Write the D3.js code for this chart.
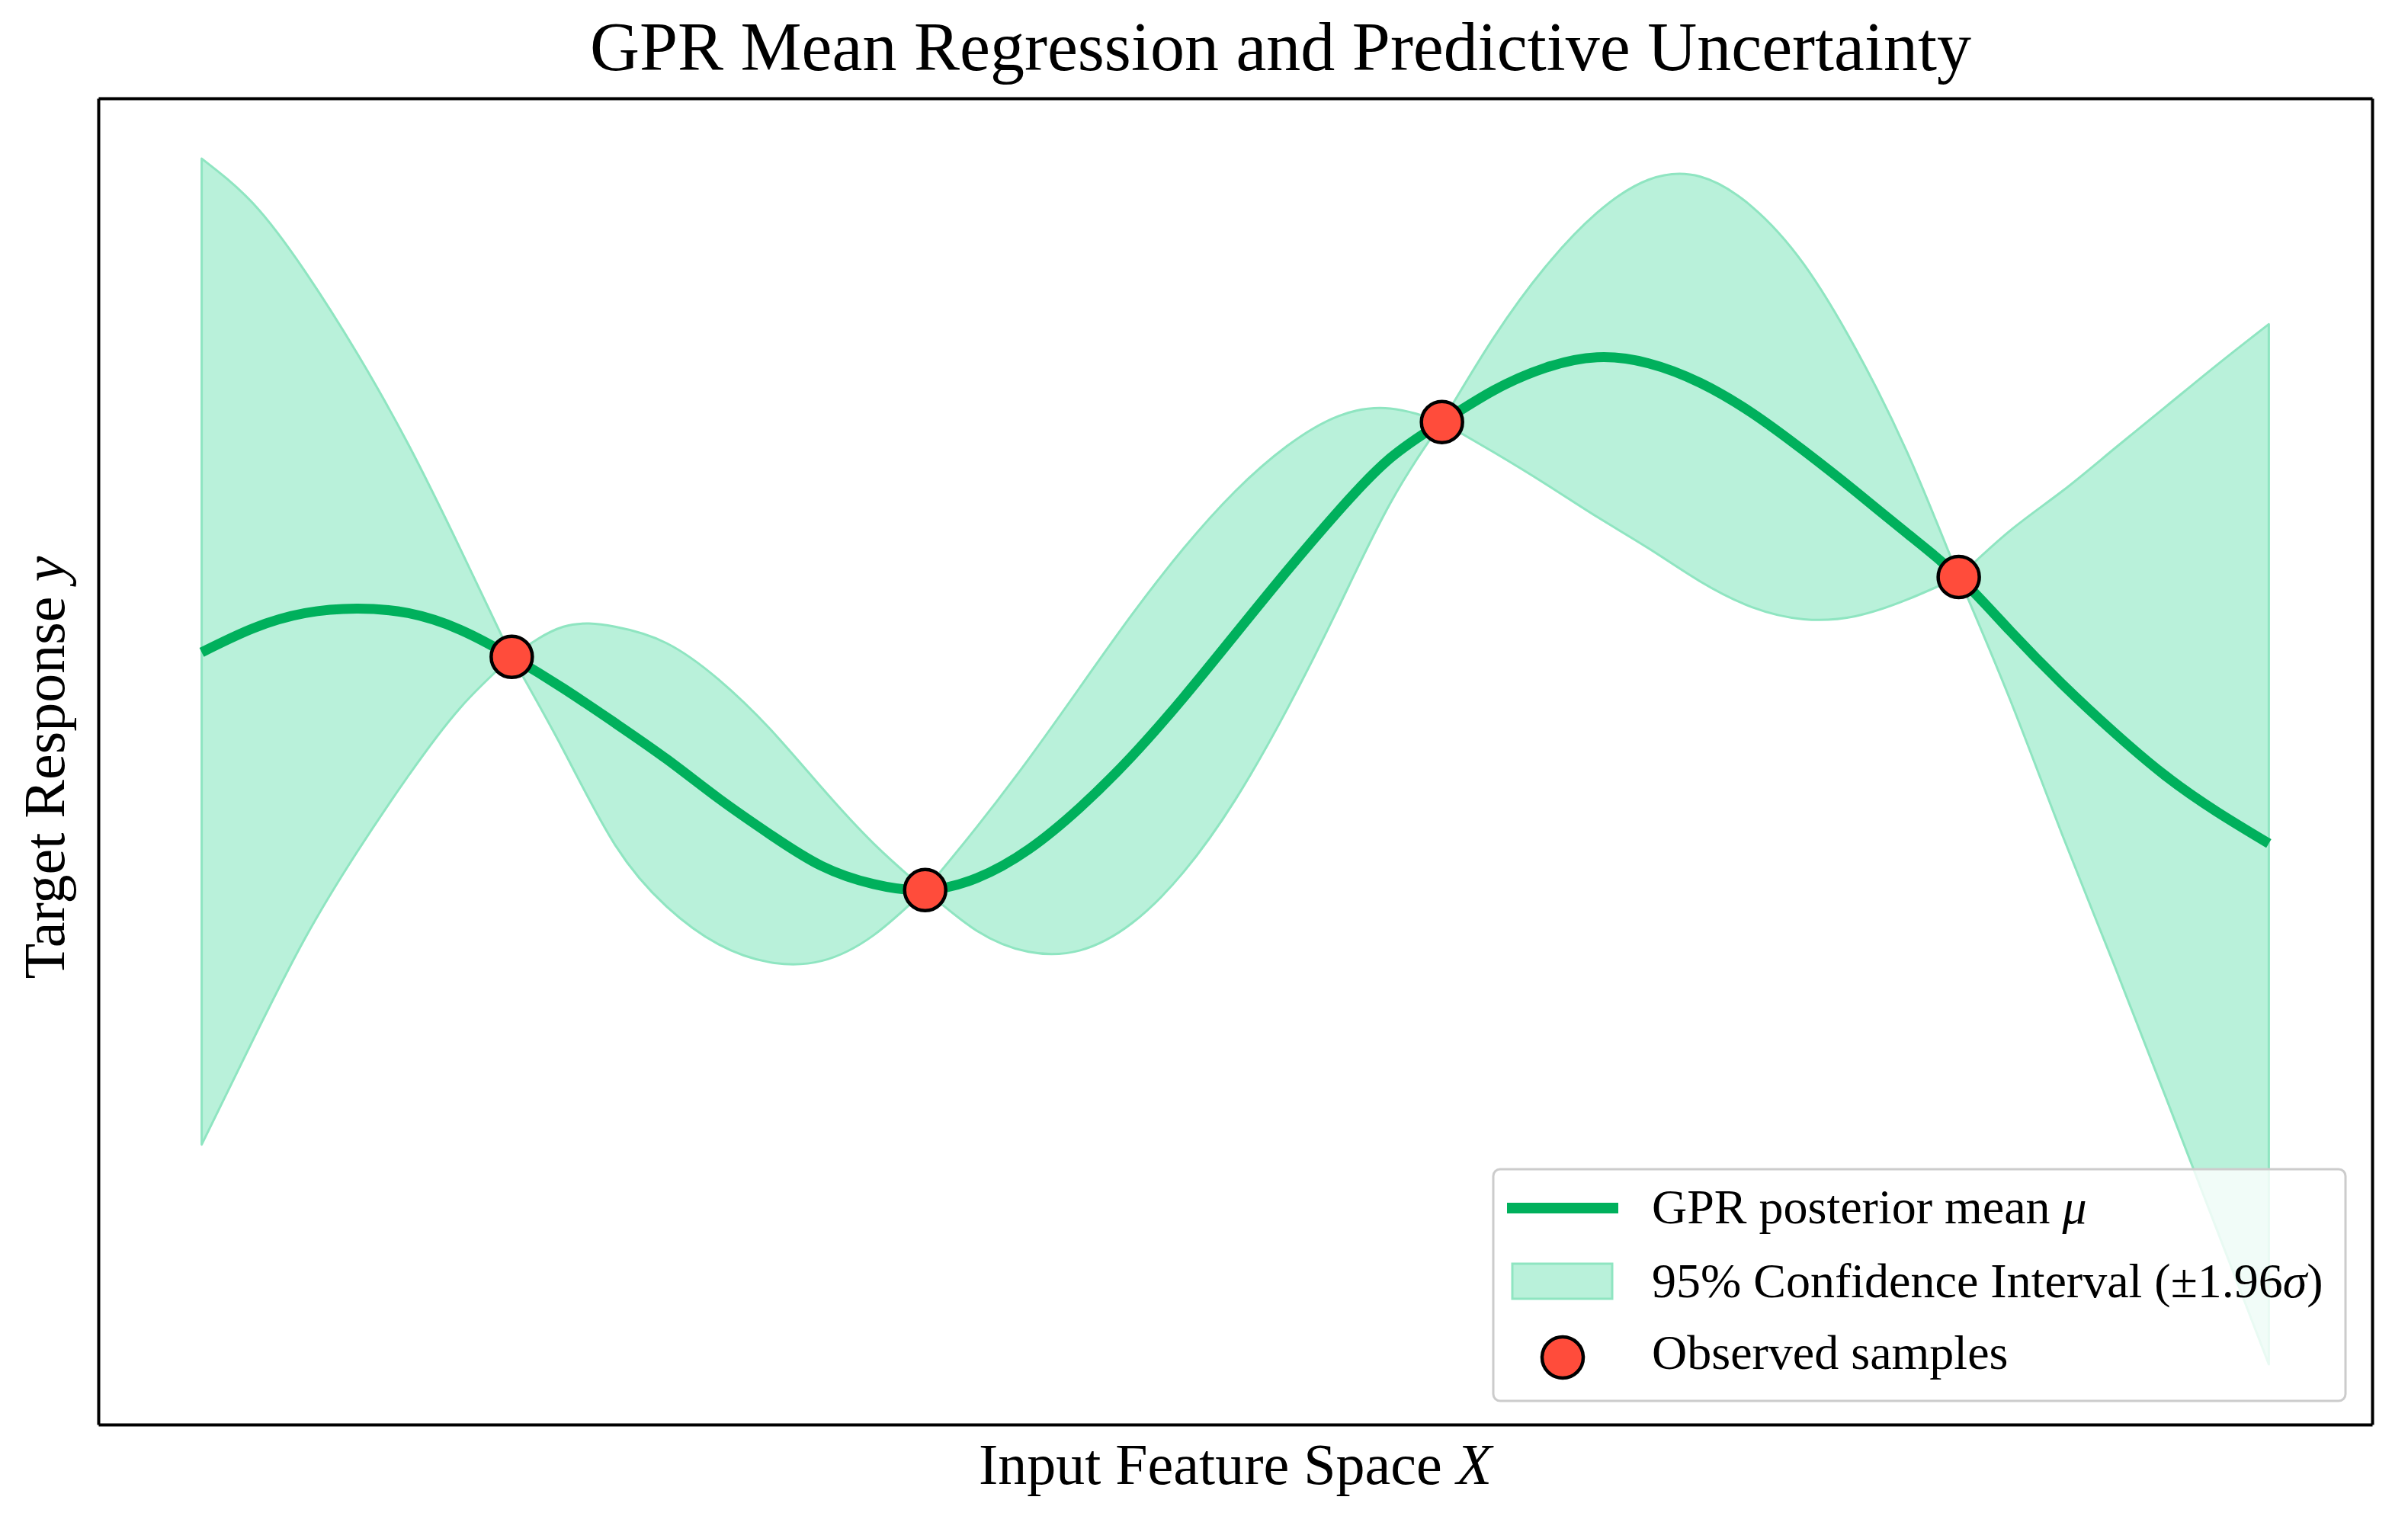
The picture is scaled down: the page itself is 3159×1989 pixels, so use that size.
<!DOCTYPE html>
<html>
<head>
<meta charset="utf-8">
<script src="https://cdn.jsdelivr.net/npm/d3@7"></script>
<style>
  body { margin: 0; background: #fff; }
  text { font-family: "Liberation Serif", "Times New Roman", serif; fill: #000; }
</style>
</head>
<body>
<script>
// sample positions along the input axis
var xGrid = [0, 0.25, 0.5, 0.75, 1, 1.25, 1.5, 1.75, 2, 2.25, 2.5, 2.75, 3, 3.25, 3.5,
  3.75, 4, 4.25, 4.5, 4.75, 5, 5.25, 5.5, 5.75, 6, 6.25, 6.5, 6.75, 7, 7.25, 7.5,
  7.75, 8, 8.25, 8.5, 8.75, 9, 9.25, 9.5, 9.75, 10];

// posterior mean
var meanY = [0.72, 0.88, 0.98, 1.01, 0.98, 0.87, 0.69, 0.48, 0.25, 0.01, -0.25, -0.49, -0.70, -0.82, -0.86,
  -0.78, -0.59, -0.31, 0.03, 0.42, 0.84, 1.26, 1.66, 2.01, 2.25, 2.46, 2.61, 2.68, 2.64, 2.51, 2.31,
  2.06, 1.79, 1.51, 1.22, 0.86, 0.51, 0.19, -0.10, -0.34, -0.55];

// upper / lower edge of the 95% band
var upperY = [4.00, 3.70, 3.25, 2.71, 2.10, 1.41, 0.69, 0.89, 0.89, 0.78, 0.54, 0.21, -0.18, -0.55, -0.86,
  -0.44, 0.01, 0.49, 0.97, 1.41, 1.79, 2.09, 2.29, 2.34, 2.25, 2.81, 3.28, 3.64, 3.86, 3.88, 3.68,
  3.30, 2.74, 2.05, 1.22, 1.53, 1.79, 2.07, 2.35, 2.63, 2.90];
var lowerY = [-2.55, -1.85, -1.18, -0.61, -0.10, 0.35, 0.69, 0.07, -0.56, -0.97, -1.22, -1.34, -1.33, -1.16, -0.86,
  -1.13, -1.27, -1.26, -1.08, -0.74, -0.26, 0.34, 1.02, 1.71, 2.25, 2.05, 1.84, 1.62, 1.41, 1.19, 1.02,
  0.94, 0.96, 1.07, 1.22, 0.40, -0.49, -1.35, -2.23, -3.12, -4.01];

// observed training points
var obsX = [1.5, 3.5, 6.0, 8.5];
var obsY = [0.69, -0.86, 2.25, 1.22];

var width = 3159;
var height = 1989;
var margin = {top: 129, right: 47, bottom: 120, left: 129};

var lineColor = "#00b05c";
var bandFill = "#b9f1da";
var bandEdge = "#8fe5c1";
var dotColor = "#ff4c3b";

var svg = d3.select("body").append("svg")
  .attr("width", width)
  .attr("height", height);

// matplotlib-like 5% margins around the data
var xExt = d3.extent(xGrid);
var yExt = [d3.min(lowerY), d3.max(upperY)];
var xPad = (xExt[1] - xExt[0]) * 0.05;
var yPad = (yExt[1] - yExt[0]) * 0.05;

var x = d3.scaleLinear()
  .domain([xExt[0] - xPad, xExt[1] + xPad])
  .range([margin.left, width - margin.right]);
var y = d3.scaleLinear()
  .domain([yExt[0] - yPad, yExt[1] + yPad])
  .range([height - margin.bottom, margin.top]);

var rows = xGrid.map(function(v, i) {
  return {x: v, m: meanY[i], hi: upperY[i], lo: lowerY[i]};
});

// band is cut at each observation so the pinch stays sharp
var cuts = [0].concat(obsX.map(function(v) { return xGrid.indexOf(v); }), [xGrid.length - 1]);

var area = d3.area()
  .x(function(d) { return x(d.x); })
  .y0(function(d) { return y(d.lo); })
  .y1(function(d) { return y(d.hi); })
  .curve(d3.curveNatural);

var band = svg.append("g");
for (var s = 0; s < cuts.length - 1; s++) {
  band.append("path")
    .datum(rows.slice(cuts[s], cuts[s + 1] + 1))
    .attr("d", area)
    .attr("fill", bandFill)
    .attr("stroke", bandEdge)
    .attr("stroke-width", 3)
    .attr("stroke-linejoin", "round");
}

var line = d3.line()
  .x(function(d) { return x(d.x); })
  .y(function(d) { return y(d.m); })
  .curve(d3.curveNatural);

svg.append("path")
  .datum(rows)
  .attr("d", line)
  .attr("fill", "none")
  .attr("stroke", lineColor)
  .attr("stroke-width", 13);

svg.append("g").selectAll("circle")
  .data(obsX)
  .enter().append("circle")
  .attr("cx", function(d) { return x(d); })
  .attr("cy", function(d, i) { return y(obsY[i]); })
  .attr("r", 27)
  .attr("fill", dotColor)
  .attr("stroke", "#000")
  .attr("stroke-width", 4.5);

// frame: four spines with no ticks
var spines = [
  {ax: d3.axisBottom(x), t: "translate(0," + (height - margin.bottom) + ")"},
  {ax: d3.axisTop(x), t: "translate(0," + margin.top + ")"},
  {ax: d3.axisLeft(y), t: "translate(" + margin.left + ",0)"},
  {ax: d3.axisRight(y), t: "translate(" + (width - margin.right) + ",0)"}
];
spines.forEach(function(sp) {
  var g = svg.append("g")
    .attr("transform", sp.t)
    .call(sp.ax.tickValues([]).tickSizeOuter(0));
  g.select(".domain").attr("stroke", "#000").attr("stroke-width", 4);
});

// titles
svg.append("text")
  .attr("x", 1680)
  .attr("y", 92)
  .attr("text-anchor", "middle")
  .style("font-size", "90px")
  .text("GPR Mean Regression and Predictive Uncertainty");

var xl = svg.append("text")
  .attr("x", (margin.left + width - margin.right) / 2)
  .attr("y", 1947)
  .attr("text-anchor", "middle")
  .style("font-size", "76px");
xl.append("tspan").text("Input Feature Space ");
xl.append("tspan").style("font-style", "italic").text("X");

var yl = svg.append("text")
  .attr("transform", "translate(84," + ((margin.top + height - margin.bottom) / 2 + 8) + ") rotate(-90)")
  .attr("text-anchor", "middle")
  .style("font-size", "76px");
yl.append("tspan").text("Target Response ");
yl.append("tspan").style("font-style", "italic").text("y");

// legend
var leg = svg.append("g").attr("transform", "translate(1959,1534)");
leg.append("rect")
  .attr("width", 1118)
  .attr("height", 304)
  .attr("rx", 9)
  .attr("fill", "#fff")
  .attr("fill-opacity", 0.8)
  .attr("stroke", "#cccccc")
  .attr("stroke-width", 3);

leg.append("line")
  .attr("x1", 18).attr("x2", 164)
  .attr("y1", 51).attr("y2", 51)
  .attr("stroke", lineColor)
  .attr("stroke-width", 14);
leg.append("rect")
  .attr("x", 25).attr("y", 124)
  .attr("width", 131).attr("height", 46)
  .attr("fill", bandFill)
  .attr("stroke", bandEdge)
  .attr("stroke-width", 3);
leg.append("circle")
  .attr("cx", 91).attr("cy", 247)
  .attr("r", 27)
  .attr("fill", dotColor)
  .attr("stroke", "#000")
  .attr("stroke-width", 4.5);

var t1 = leg.append("text").attr("x", 208).attr("y", 71).style("font-size", "64px");
t1.append("tspan").text("GPR posterior mean ");
t1.append("tspan").style("font-style", "italic").text("μ");

var t2 = leg.append("text").attr("x", 208).attr("y", 168).style("font-size", "64px");
t2.append("tspan").text("95% Confidence Interval (±1.96");
t2.append("tspan").style("font-style", "italic").text("σ");
t2.append("tspan").text(")");

leg.append("text").attr("x", 208).attr("y", 262).style("font-size", "64px")
  .text("Observed samples");
</script>
</body>
</html>
